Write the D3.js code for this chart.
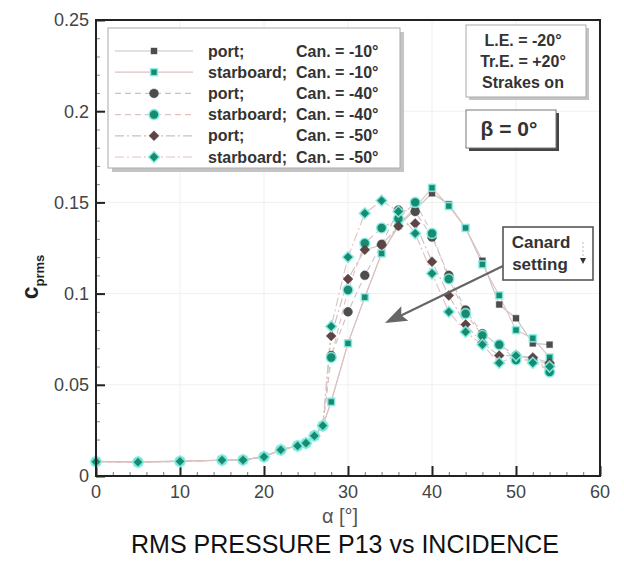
<!DOCTYPE html>
<html><head><meta charset="utf-8">
<script src="https://cdn.jsdelivr.net/npm/d3@7"></script>
<style>body{margin:0;background:#fff;} svg{display:block;font-family:"Liberation Sans",Arial,sans-serif;}</style>
</head><body>
<svg id="c" width="624" height="562"></svg>
<script>
// ---- data ----
const alpha = [0,5,10,15,17.5,20,22,24,25,26,27,28,30,32,34,36,38,40,42,44,46,48,50,52,54];
const portM10 = [0.0080,0.0078,0.0082,0.0086,0.0088,0.0106,0.0144,0.0166,0.0180,0.0222,0.0274,0.0410,0.0730,0.0980,0.1220,0.1370,0.1460,0.1550,0.1490,0.1360,0.1180,0.0940,0.0865,0.0727,0.0720];
const stbdM10 = [0.0078,0.0075,0.0080,0.0088,0.0088,0.0105,0.0143,0.0165,0.0180,0.0220,0.0275,0.0406,0.0727,0.0980,0.1220,0.1380,0.1470,0.1580,0.1480,0.1360,0.1160,0.0990,0.0800,0.0755,0.0650];
const portM40 = [0.0080,0.0078,0.0080,0.0086,0.0088,0.0106,0.0144,0.0166,0.0180,0.0222,0.0275,0.0660,0.0900,0.1100,0.1270,0.1458,0.1450,0.1310,0.1100,0.0910,0.0780,0.0720,0.0660,0.0640,0.0610];
const stbdM40 = [0.0078,0.0076,0.0080,0.0087,0.0088,0.0105,0.0143,0.0165,0.0180,0.0220,0.0275,0.0650,0.1020,0.1276,0.1360,0.1410,0.1500,0.1330,0.1080,0.0890,0.0770,0.0720,0.0636,0.0636,0.0570];
const portM50 = [0.0080,0.0078,0.0081,0.0086,0.0088,0.0106,0.0144,0.0166,0.0180,0.0222,0.0276,0.0768,0.1080,0.1240,0.1266,0.1370,0.1385,0.1175,0.0990,0.0830,0.0730,0.0660,0.0660,0.0650,0.0620];
const stbdM50 = [0.0078,0.0076,0.0080,0.0087,0.0088,0.0105,0.0143,0.0165,0.0180,0.0220,0.0276,0.0820,0.1200,0.1440,0.1510,0.1450,0.1330,0.1110,0.0900,0.0790,0.0720,0.0620,0.0660,0.0620,0.0600];
const seriesNames = ["port;","starboard;","port;","starboard;","port;","starboard;"];
const canardLabels = ["Can. = -10°","Can. = -10°","Can. = -40°","Can. = -40°","Can. = -50°","Can. = -50°"];
const xTicks = [0,10,20,30,40,50,60];
const yTicks = [0,0.05,0.1,0.15,0.2,0.25];
const yTickLabels = ["0","0.05","0.1","0.15","0.2","0.25"];
const infoLines = ["L.E.  =  -20°","Tr.E. = +20°","Strakes on"];

// ---- styles ----
const TEAL = "#178a70", HALO = "#8af2e8";
const styles = [
  {vals: portM10, shape:"square", fill:"#4d4d4d", halo:null, size:6, line:"#c4c4c4", dash:null},
  {vals: stbdM10, shape:"square", fill:TEAL, halo:HALO, size:7, line:"#e2c0c0", dash:null},
  {vals: portM40, shape:"circle", fill:"#4d4d4d", halo:null, size:9, line:"#c4c4c4", dash:"6,4"},
  {vals: stbdM40, shape:"circle", fill:TEAL, halo:HALO, size:10, line:"#e2c0c0", dash:"6,4"},
  {vals: portM50, shape:"diamond", fill:"#5e4444", halo:null, size:8, line:"#c4c4c4", dash:"9,3,2,3"},
  {vals: stbdM50, shape:"diamond", fill:TEAL, halo:HALO, size:9, line:"#e2c0c0", dash:"9,3,2,3"}
];

const svg = d3.select("#c");
const L=96, R=600, T=20, B=476;
const x = d3.scaleLinear().domain([0,60]).range([L,R]);
const y = d3.scaleLinear().domain([0,0.25]).range([B,T]);

// grid
const g = svg.append("g");
g.selectAll(".gx").data(xTicks.slice(1,-1)).join("line")
  .attr("x1",d=>x(d)).attr("x2",d=>x(d)).attr("y1",T).attr("y2",B)
  .attr("stroke","#f0f0f0").attr("stroke-width",1);
g.selectAll(".gy").data(yTicks.slice(1,-1)).join("line")
  .attr("y1",d=>y(d)).attr("y2",d=>y(d)).attr("x1",L).attr("x2",R)
  .attr("stroke","#f0f0f0").attr("stroke-width",1);

// axes (ticks inward)
const xAxis = d3.axisTop(x).tickValues(xTicks).tickSize(10).tickFormat("");
const xMinor = d3.axisTop(x).tickValues(d3.range(0,60.1,2)).tickSize(4).tickFormat("");
svg.append("g").attr("transform",`translate(0,${B})`).call(xMinor).call(s=>{s.select(".domain").remove();s.selectAll("line").attr("stroke","#777");});
svg.append("g").attr("transform",`translate(0,${B})`).call(xAxis).call(s=>{s.select(".domain").remove();s.selectAll("line").attr("stroke","#222").attr("stroke-width",2);});
const yAxis = d3.axisRight(y).tickValues(yTicks).tickSize(9).tickFormat("");
const yMinor = d3.axisRight(y).tickValues(d3.range(0,0.2501,0.01)).tickSize(4).tickFormat("");
svg.append("g").attr("transform",`translate(${L},0)`).call(yMinor).call(s=>{s.select(".domain").remove();s.selectAll("line").attr("stroke","#888");});
svg.append("g").attr("transform",`translate(${L},0)`).call(yAxis).call(s=>{s.select(".domain").remove();s.selectAll("line").attr("stroke","#222").attr("stroke-width",2);});

// tick labels
svg.append("g").selectAll("text").data(xTicks).join("text")
  .attr("x",d=>x(d)).attr("y",498).attr("text-anchor","middle")
  .attr("font-size",18).attr("fill","#444").text(d=>d);
svg.append("g").selectAll("text").data(yTicks).join("text")
  .attr("x",89).attr("y",d=>y(d)).attr("dy","0.36em").attr("text-anchor","end")
  .attr("font-size",18).attr("fill","#444").text((d,i)=>yTickLabels[i]);

// lines
const lineGen = d3.line().x((d,i)=>x(alpha[i])).y(d=>y(d));
styles.forEach(s=>{
  svg.append("path").datum(s.vals).attr("d",lineGen).attr("fill","none")
    .attr("stroke",s.line).attr("stroke-width",1.1).attr("stroke-dasharray",s.dash);
});

function drawMarker(sel, s, cx, cy){
  let m;
  if(s.shape==="square"){
    m = sel.append("rect").attr("x",cx-s.size/2).attr("y",cy-s.size/2).attr("width",s.size).attr("height",s.size);
  } else if(s.shape==="circle"){
    m = sel.append("circle").attr("cx",cx).attr("cy",cy).attr("r",s.size/2);
  } else {
    const h=s.size/2+1;
    m = sel.append("path").attr("d",`M${cx},${cy-h}L${cx+h},${cy}L${cx},${cy+h}L${cx-h},${cy}Z`);
  }
  m.attr("fill",s.fill);
  if(s.halo){ m.attr("stroke",s.halo).attr("stroke-width",1.6).attr("stroke-opacity",0.85); }
  else { m.attr("stroke",s.fill).attr("stroke-opacity",0.4).attr("stroke-width",1); }
}
const markers = svg.append("g");
styles.forEach(s=>{
  s.vals.forEach((v,i)=>drawMarker(markers,s,x(alpha[i]),y(v)));
});

// frame
svg.append("rect").attr("x",L).attr("y",T).attr("width",R-L).attr("height",B-T)
  .attr("fill","none").attr("stroke","#222").attr("stroke-width",2);

// legend
const lg = svg.append("g");
lg.append("rect").attr("x",112).attr("y",32).attr("width",292).attr("height",140).attr("fill","#c4c4c4");
lg.append("rect").attr("x",108).attr("y",28).attr("width",292).attr("height",140).attr("fill","#fff").attr("stroke","#aaa").attr("stroke-width",1);
styles.forEach((s,i)=>{
  const yy = 51 + i*21.2;
  lg.append("line").attr("x1",115).attr("x2",193).attr("y1",yy).attr("y2",yy)
    .attr("stroke",s.line).attr("stroke-width",1.2).attr("stroke-dasharray",s.dash);
  drawMarker(lg,s,154,yy);
  lg.append("text").attr("x",208).attr("y",yy).attr("dy","0.35em").attr("font-size",16).attr("font-weight","bold").attr("fill","#333").text(seriesNames[i]);
  lg.append("text").attr("x",296).attr("y",yy).attr("dy","0.35em").attr("font-size",16).attr("font-weight","bold").attr("fill","#333").text(canardLabels[i]);
});

// info box
const ib = svg.append("g");
ib.append("rect").attr("x",469).attr("y",28).attr("width",120).attr("height",72).attr("fill","#c4c4c4");
ib.append("rect").attr("x",466).attr("y",25).attr("width",120).attr("height",72).attr("fill","#fff").attr("stroke","#aaa");
infoLines.forEach((t,i)=>{
  ib.append("text").attr("x",523).attr("y",46+i*21).attr("text-anchor","middle")
    .attr("font-size",16).attr("font-weight","bold").attr("fill","#333").text(t);
});

// beta box
const bb = svg.append("g");
bb.append("rect").attr("x",469).attr("y",113).attr("width",90).attr("height",38).attr("fill","#444");
bb.append("rect").attr("x",466).attr("y",110).attr("width",90).attr("height",38).attr("fill","#fff").attr("stroke","#777");
bb.append("text").attr("x",509).attr("y",136).attr("text-anchor","middle")
  .attr("font-size",21).attr("font-weight","bold").attr("fill","#333").text("β = 0°");

// canard annotation
const cb = svg.append("g");
cb.append("line").attr("x1",503).attr("y1",266).attr("x2",398).attr("y2",317).attr("stroke","#666").attr("stroke-width",2.2);
{
  const tx=385, ty=323, ang=Math.atan2(323-266, 385-503);
  const len=22, hw=8;
  const bx=tx-len*Math.cos(ang), by=ty-len*Math.sin(ang);
  const px=-Math.sin(ang), py=Math.cos(ang);
  cb.append("path").attr("d",`M${tx},${ty}L${bx+hw*px},${by+hw*py}L${bx+4*Math.cos(ang)},${by+4*Math.sin(ang)}L${bx-hw*px},${by-hw*py}Z`).attr("fill","#666");
}
cb.append("rect").attr("x",503).attr("y",227).attr("width",90).attr("height",53).attr("fill","#fff").attr("stroke","#555").attr("stroke-width",1.6);
cb.append("text").attr("x",541).attr("y",248).attr("text-anchor","middle").attr("font-size",17).attr("font-weight","bold").attr("fill","#333").text("Canard");
cb.append("text").attr("x",540).attr("y",270).attr("text-anchor","middle").attr("font-size",17).attr("font-weight","bold").attr("fill","#333").text("setting");
cb.append("line").attr("x1",583).attr("x2",583).attr("y1",242).attr("y2",258).attr("stroke","#bbb").attr("stroke-dasharray","2,2");
cb.append("path").attr("d","M580,258L586,258L583,264Z").attr("fill","#333");

// axis titles
svg.append("text").attr("transform","translate(38,277) rotate(-90)").attr("text-anchor","middle")
  .attr("font-weight","bold").attr("fill","#222")
  .call(t=>{t.append("tspan").attr("font-size",23).text("c");
            t.append("tspan").attr("font-size",13).attr("dy",6).text("prms");});
svg.append("text").attr("x",340).attr("y",523).attr("text-anchor","middle").attr("font-size",20).attr("fill","#555").text("α [°]");
svg.append("text").attr("x",345).attr("y",553).attr("text-anchor","middle").attr("font-size",25).attr("fill","#111").text("RMS PRESSURE P13 vs INCIDENCE");
</script>
</body></html>
